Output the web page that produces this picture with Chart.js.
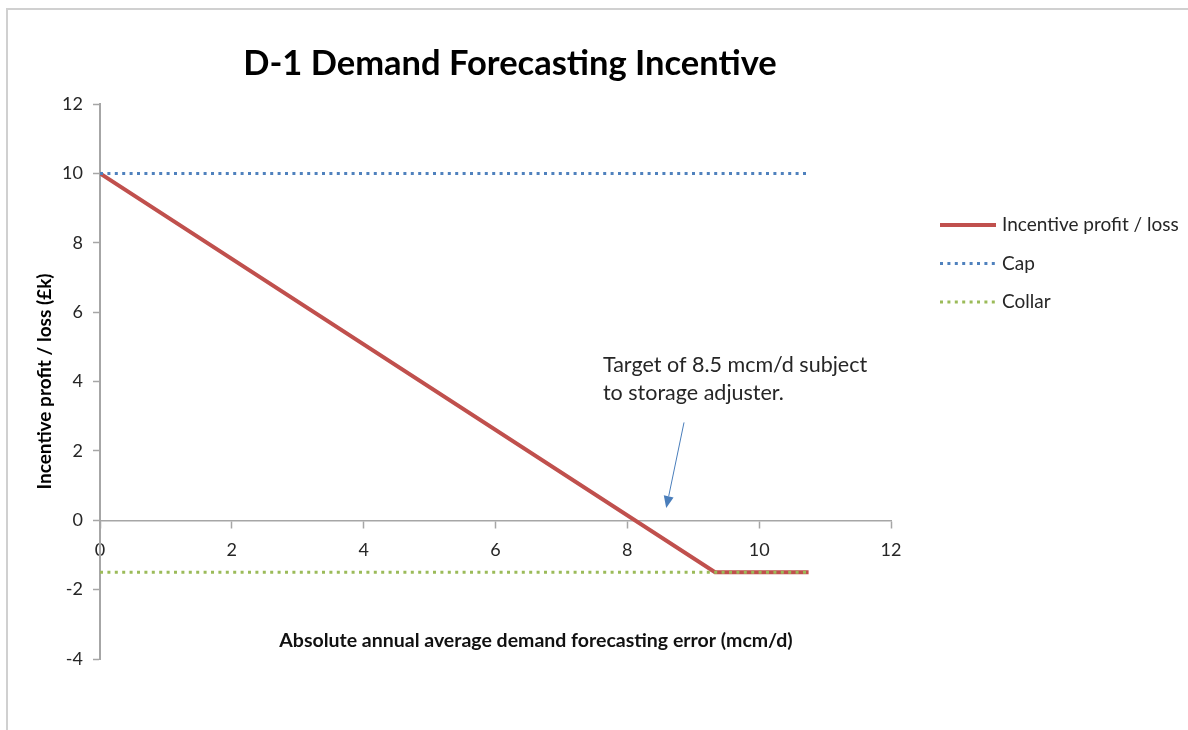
<!DOCTYPE html>
<html>
<head>
<meta charset="utf-8">
<title>D-1 Demand Forecasting Incentive</title>
<script src="https://cdn.jsdelivr.net/npm/chart.js@4.4.1/dist/chart.umd.min.js"></script>
<style>
  html, body { margin: 0; padding: 0; background: #fff; }
  #wrap { position: relative; width: 1188px; height: 730px; overflow: hidden; }
  #frame { position: absolute; left: 6px; top: 8px; right: -4px; bottom: -4px; border-top: 2px solid #d0d0d0; border-left: 2px solid #d0d0d0; }
  canvas { position: absolute; left: 0; top: 0; }
</style>
</head>
<body>
<div id="wrap"><div id="frame"></div><canvas id="chart" width="1188" height="730"></canvas></div>
<script>
'use strict';

// series: x = absolute forecasting error (mcm/d), y = profit / loss (£k)
const seriesNames = ['Incentive profit / loss', 'Cap', 'Collar'];
const incentiveX = [0, 9.33, 10.75];
const incentiveY = [10, -1.5, -1.5];
const capX = [0, 10.75];
const capY = [10, 10];
const collarX = [0, 10.75];
const collarY = [-1.5, -1.5];

const xTicks = [0, 2, 4, 6, 8, 10, 12];
const yTicks = [-4, -2, 0, 2, 4, 6, 8, 10, 12];

const chartTitle = 'D-1 Demand Forecasting Incentive';
const xTitle = 'Absolute annual average demand forecasting error (mcm/d)';
const yTitle = 'Incentive profit / loss (£k)';
const noteLines = ['Target of 8.5 mcm/d subject', 'to storage adjuster.'];

const toPoints = (xs, ys) => xs.map((x, i) => ({ x: x, y: ys[i] }));

const FONT = 'Lato, "Open Sans", sans-serif';
const AXIS_GREY = '#a6a6a6';
const TEXT = '#262626';

const data = {
    datasets: [{
        label: seriesNames[0],
        data: toPoints(incentiveX, incentiveY),
        borderColor: '#c0504d',
        borderWidth: 4,
        order: 2
    }, {
        label: seriesNames[1],
        data: toPoints(capX, capY),
        borderColor: '#4f81bd',
        borderWidth: 3,
        borderDash: [3, 4.4],
        order: 1
    }, {
        label: seriesNames[2],
        data: toPoints(collarX, collarY),
        borderColor: '#9bbb59',
        borderWidth: 3,
        borderDash: [3, 4.4],
        order: 0
    }]
};

// title, x caption, the target note with its arrow, and the legend
const overlayPlugin = {
    id: 'overlay',
    afterDraw: (chart) => {
        const ctx = chart.ctx;
        const xs = chart.scales.x;
        const ys = chart.scales.y;
        ctx.save();

        ctx.fillStyle = '#000';
        ctx.textAlign = 'center';
        ctx.textBaseline = 'middle';
        ctx.font = 'bold 34.5px ' + FONT;
        ctx.fillText(chartTitle, 510, 64);

        ctx.fillStyle = '#111';
        ctx.font = 'bold 19.5px ' + FONT;
        ctx.fillText(xTitle, 536, 641);

        // note, anchored in data units
        ctx.fillStyle = TEXT;
        ctx.textAlign = 'left';
        ctx.font = '21.5px ' + FONT;
        const noteX = xs.getPixelForValue(7.63);
        const noteY = ys.getPixelForValue(4.47);
        noteLines.forEach((line, i) => ctx.fillText(line, noteX, noteY + i * 28));

        const x0 = xs.getPixelForValue(8.86), y0 = ys.getPixelForValue(2.82);
        const x1 = xs.getPixelForValue(8.59), y1 = ys.getPixelForValue(0.35);
        const ang = Math.atan2(y1 - y0, x1 - x0);
        const head = 12, half = 5;
        ctx.strokeStyle = '#4a7ebb';
        ctx.fillStyle = '#4a7ebb';
        ctx.lineWidth = 1;
        ctx.beginPath();
        ctx.moveTo(x0, y0);
        ctx.lineTo(x1 - head * Math.cos(ang), y1 - head * Math.sin(ang));
        ctx.stroke();
        ctx.beginPath();
        ctx.moveTo(x1, y1);
        ctx.lineTo(x1 - head * Math.cos(ang) + half * Math.sin(ang), y1 - head * Math.sin(ang) - half * Math.cos(ang));
        ctx.lineTo(x1 - head * Math.cos(ang) - half * Math.sin(ang), y1 - head * Math.sin(ang) + half * Math.cos(ang));
        ctx.closePath();
        ctx.fill();

        // legend
        ctx.font = '19px ' + FONT;
        chart.data.datasets.forEach((ds, i) => {
            const rowY = 225 + i * 38.5;
            ctx.strokeStyle = ds.borderColor;
            ctx.lineWidth = ds.borderWidth;
            ctx.setLineDash(ds.borderDash || []);
            ctx.beginPath();
            ctx.moveTo(940, rowY);
            ctx.lineTo(996, rowY);
            ctx.stroke();
            ctx.setLineDash([]);
            ctx.fillStyle = TEXT;
            ctx.fillText(ds.label, 1002, rowY);
        });

        ctx.restore();
    }
};

const options = {
    responsive: false,
    animation: false,
    showLine: true,
    elements: {
        point: { radius: 0 },
        line: { tension: 0, borderCapStyle: 'butt' }
    },
    layout: {
        padding: { left: 0, top: 104, right: 297, bottom: 71 }
    },
    scales: {
        x: {
            type: 'linear',
            position: { y: 0 },
            min: xTicks[0],
            max: xTicks[xTicks.length - 1],
            ticks: {
                stepSize: xTicks[1] - xTicks[0],
                padding: 12,
                color: TEXT,
                font: { family: FONT, size: 18 },
                maxRotation: 0
            },
            grid: {
                drawOnChartArea: false,
                drawTicks: true,
                tickLength: 7,
                tickColor: AXIS_GREY,
                tickWidth: 1.5
            },
            border: { color: AXIS_GREY, width: 1.5 }
        },
        y: {
            type: 'linear',
            min: yTicks[0],
            max: yTicks[yTicks.length - 1],
            afterFit: (scale) => { scale.width = 100; },
            ticks: {
                stepSize: yTicks[1] - yTicks[0],
                padding: 10,
                color: TEXT,
                font: { family: FONT, size: 18 }
            },
            grid: {
                drawOnChartArea: false,
                drawTicks: true,
                tickLength: 7,
                tickColor: AXIS_GREY,
                tickWidth: 1.5
            },
            border: { color: AXIS_GREY, width: 2 },
            title: {
                display: true,
                text: yTitle,
                color: '#000',
                font: { family: FONT, size: 19, weight: 'bold' },
                padding: { top: 33, bottom: 0 }
            }
        }
    },
    plugins: {
        legend: { display: false },
        title: { display: false },
        tooltip: { enabled: false }
    }
};

const config = {
    type: 'scatter',
    data: data,
    options: options,
    plugins: [overlayPlugin]
};

new Chart(document.getElementById('chart'), config);
</script>
</body>
</html>
